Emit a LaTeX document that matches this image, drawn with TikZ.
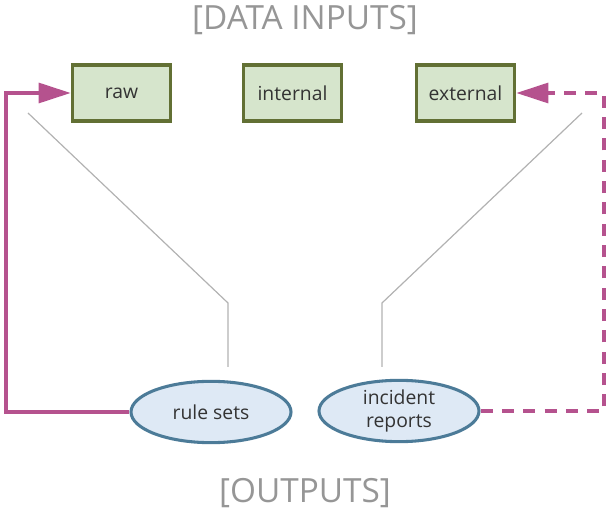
\documentclass[tikz,border=0pt]{standalone}
\usepackage{fontspec}
\setmainfont{Open Sans}
\usetikzlibrary{shapes.geometric,arrows.meta}
\definecolor{boxfill}{RGB}{214,229,204}
\definecolor{boxline}{RGB}{98,112,52}
\definecolor{ovalfill}{RGB}{222,233,245}
\definecolor{ovalline}{RGB}{76,123,152}
\definecolor{loopcol}{RGB}{181,82,142}
\definecolor{titlecol}{RGB}{150,150,150}
\begin{document}
\begin{tikzpicture}[
    x=0.75pt, y=-0.75pt,
    every node/.style={font=\fontsize{14.5}{17}\selectfont, text=black!80, align=center},
    inbox/.style={draw=boxline, fill=boxfill, line width=2.3pt, minimum width=74pt, minimum height=42pt},
    outoval/.style={ellipse, draw=ovalline, fill=ovalfill, line width=2.3pt, minimum width=120pt, minimum height=46pt, inner sep=0pt},
    heading/.style={font=\fontsize{25}{29}\selectfont, text=titlecol},
    guide/.style={gray!60, line width=0.9pt},
    feed/.style={-{Triangle[length=24pt, width=15pt]}, loopcol, line width=2.3pt}
]
  \useasboundingbox (0,0) rectangle (608,513);
  % Titel oben und unten
  \node[heading] (tin) at (305,20) {[DATA INPUTS]};
  \node[heading] (tout) at (305,493) {[OUTPUTS]};

  % Eingaben
  \node[inbox] (raw) at (121.5,93) {raw};
  \node[inbox] (int) at (292.5,93) {internal};
  \node[inbox] (ext) at (465.5,93) {external};

  % Ausgaben
  \node[outoval] (rules) at (211,412) {rule sets};
  \node[outoval] (reports) at (399,411) {incident\\ reports};

  % Hilfslinien
  \coordinate (gl1) at (28,113);
  \coordinate (gl2) at (228,303);
  \coordinate (gl3) at (228,367);
  \coordinate (gr1) at (582,113);
  \coordinate (gr2) at (382,303);
  \coordinate (gr3) at (382,367);
  \draw[guide] (gl1) -- (gl2) -- (gl3);
  \draw[guide] (gr1) -- (gr2) -- (gr3);

  % Rueckkopplung
  \draw[feed] (rules.west) -| (6,93) -- (raw.west);
  \draw[feed, dash pattern=on 9pt off 7pt] (reports.east) -| (604,93) -- (ext.east);
\end{tikzpicture}
\end{document}
